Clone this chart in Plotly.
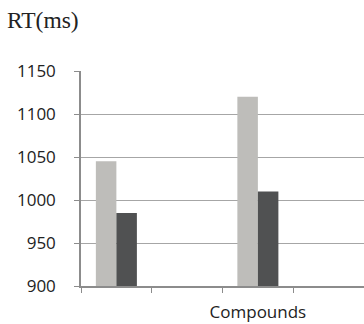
import plotly.graph_objects as go

categories = ["s1", "s2", "Compounds", "s4"]
tick_labels = ["", "", "Compounds", ""]
series_light = [1045, None, 1120, None]
series_dark = [985, None, 1010, None]
y_ticks = [900, 950, 1000, 1050, 1100, 1150]

fig = go.Figure()
fig.add_trace(go.Bar(x=categories, y=series_light, marker=dict(color="#BEBDBA", line=dict(width=0)), name="A"))
fig.add_trace(go.Bar(x=categories, y=series_dark, marker=dict(color="#505152", line=dict(width=0)), name="B"))

fig.update_layout(
    width=364, height=324,
    margin=dict(l=81, r=0, t=71, b=38, autoexpand=False),
    paper_bgcolor="white", plot_bgcolor="white",
    barmode="group", bargap=0.42, bargroupgap=0,
    showlegend=False,
    font=dict(family="Open Sans, Liberation Sans, sans-serif", color="#222222", size=16),
    annotations=[dict(text="RT(ms)", x=-76/283, y=1 + (71 - 20)/215, xref="paper", yref="paper", showarrow=False,
                      font=dict(family="Liberation Serif, Times New Roman, serif", size=23.5, color="#222222"),
                      xanchor="left", yanchor="middle")],
)

fig.update_xaxes(
    type="category", categoryorder="array", categoryarray=categories,
    tickmode="array", tickvals=categories, ticktext=tick_labels,
    tickson="boundaries", ticks="outside", ticklen=5, tickcolor="#8c8c8c",
    showline=True, linecolor="#8c8c8c", linewidth=1.5,
    showgrid=False, range=[-0.5, 3.5], tickangle=0, automargin=False,
    ticklabelstandoff=10,
    tickfont=dict(size=17, family="Open Sans, sans-serif"),
)
fig.update_yaxes(
    range=[900, 1150], tickvals=y_ticks,
    ticks="outside", ticklen=5, tickcolor="#8c8c8c",
    showline=True, linecolor="#8c8c8c", linewidth=1.5,
    showgrid=True, gridcolor="#a6a6a6", gridwidth=1,
    zeroline=False, automargin=False, ticklabelstandoff=15,
    tickfont=dict(size=17, family="Open Sans, sans-serif"),
)

fig.write_html("out.html", config={"displayModeBar": False},
               post_script="document.body.style.margin='0';document.body.style.overflow='hidden';")
